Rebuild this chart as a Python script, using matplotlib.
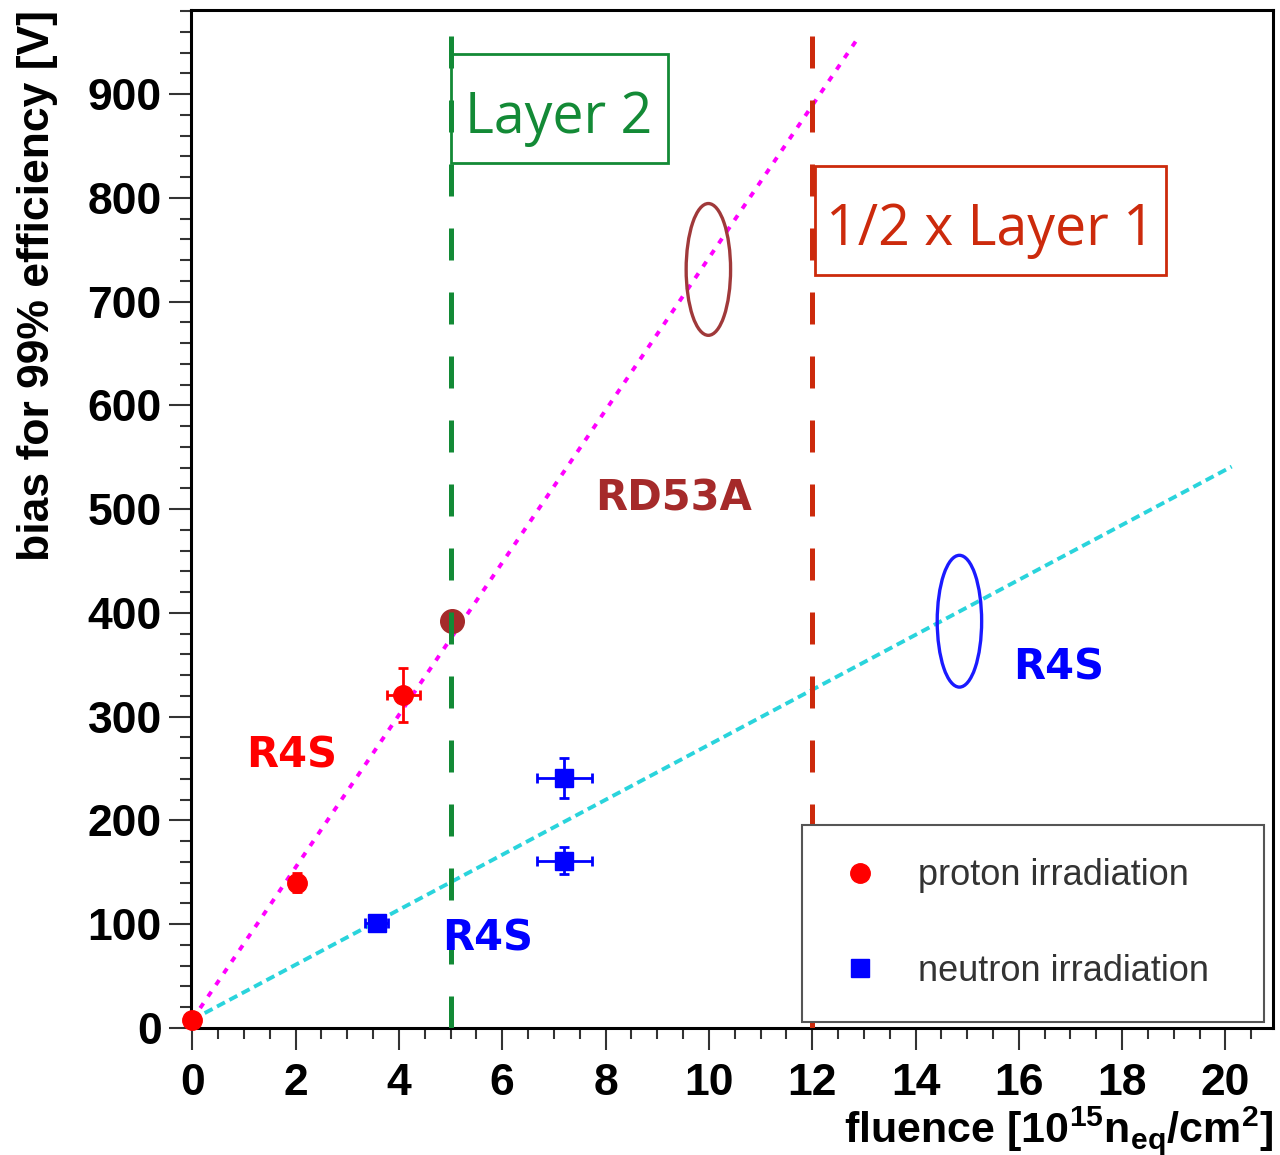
import matplotlib
matplotlib.use('Agg')
import matplotlib.pyplot as plt
from matplotlib.lines import Line2D
from matplotlib.patches import Ellipse, Rectangle
from matplotlib.ticker import MultipleLocator

plt.rcParams['font.family'] = 'Liberation Sans'
plt.rcParams['mathtext.fontset'] = 'custom'
plt.rcParams['mathtext.rm'] = 'Liberation Sans:bold'
plt.rcParams['mathtext.it'] = 'Liberation Sans:bold'
plt.rcParams['mathtext.bf'] = 'Liberation Sans:bold'

# measured points: fluence [1e15 neq/cm2] vs bias for 99% efficiency [V]
proton_x = [0.0, 2.03, 4.08]
proton_y = [8, 140, 321]
proton_xerr = [0.0, 0.08, 0.32]
proton_yerr = [0, 9, 26]

neutron_x = [3.57, 7.2, 7.2]
neutron_y = [101, 241, 161]
neutron_xerr = [0.22, 0.53, 0.53]
neutron_yerr = [4, 19, 13]

rd53a_x = [5.03]
rd53a_y = [392]

# linear trends (end points)
trend_p_x = [0.0, 12.9]
trend_p_y = [8, 955]
trend_n_x = [0.0, 20.12]
trend_n_y = [8, 541]

# extrapolated working points
extrap_x = [9.99, 14.85]
extrap_y = [731, 392]

layer2_fluence = 5.0
layer1_fluence = 12.0
layer_line_top = 957

GREEN = '#138a36'
DARKRED = '#cc2a0c'
BROWN = '#a52a2a'
BLUE = '#0000ff'
RED = '#ff0000'

fig = plt.figure(figsize=(12.8, 11.55), dpi=100)
ax = fig.add_axes([191/1280, 1 - 1028/1155, (1273 - 191)/1280, (1028 - 10)/1155])
ax.set_xlim(-0.025, 20.92)
ax.set_ylim(0, 981)

# trend lines
ax.plot(trend_p_x, trend_p_y, color='#ff00ff', lw=2.8, dashes=(1.5, 2.1), zorder=2)
ax.plot(trend_n_x, trend_n_y, color='#2ad4dc', lw=2.8, dashes=(2.3, 1.3), zorder=2)

# data
ax.plot(rd53a_x, rd53a_y, 'o', color=BROWN, ms=17, zorder=3)
ax.errorbar(proton_x, proton_y, xerr=proton_xerr, yerr=proton_yerr, fmt='o', color=RED,
            ms=14, elinewidth=2, capsize=3.6, capthick=2, zorder=6, clip_on=False)
ax.errorbar(neutron_x, neutron_y, xerr=neutron_xerr, yerr=neutron_yerr, fmt='s', color=BLUE,
            ms=13, elinewidth=2, capsize=3.6, capthick=2, zorder=6)

# layer fluence lines
ax.plot([layer2_fluence, layer2_fluence], [0, layer_line_top], color=GREEN, lw=3.6,
        dashes=(6.4, 6.4), zorder=4)
ax.plot([layer1_fluence, layer1_fluence], [0, layer_line_top], color=DARKRED, lw=3.6,
        dashes=(6.4, 6.4), zorder=4)

ax.add_patch(Rectangle((5.01, 833.8), 4.2, 105, fill=False, edgecolor=GREEN, lw=2, zorder=5))
ax.text(7.09, 862.7, 'Layer 2', color=GREEN, fontsize=40, family='Open Sans',
        ha='center', va='baseline', zorder=5)
ax.add_patch(Rectangle((12.05, 725.6), 6.8, 105.4, fill=False, edgecolor=DARKRED, lw=2, zorder=5))
ax.text(15.45, 754.8, '1/2 x Layer 1', color=DARKRED, fontsize=40, family='Open Sans',
        ha='center', va='baseline', zorder=5)

# ellipses around the extrapolated points
ax.add_patch(Ellipse((extrap_x[0], extrap_y[0]), 0.86, 127, fill=False, edgecolor='#a0393a', lw=2.4, zorder=3))
ax.add_patch(Ellipse((extrap_x[1], extrap_y[1]), 0.86, 127, fill=False, edgecolor='#1a1aff', lw=2.4, zorder=3))

lab = dict(family='DejaVu Sans', fontweight='bold', fontsize=30, ha='center', va='baseline', zorder=5)
ax.text(9.31, 499, 'RD53A', color=BROWN, **lab)
ax.text(1.93, 251, 'R4S', color=RED, **lab)
ax.text(5.72, 75, 'R4S', color=BLUE, **lab)
ax.text(16.77, 336, 'R4S', color=BLUE, **lab)

# legend
handles = [Line2D([], [], ls='none', marker='o', color=RED, ms=14),
           Line2D([], [], ls='none', marker='s', color=BLUE, ms=13)]
leg = ax.legend(handles, ['proton irradiation', 'neutron irradiation'],
                loc='upper left', bbox_to_anchor=(0.5647, 0.0147, 0.427, 0.1847),
                mode='expand', borderaxespad=0, fontsize=26, labelspacing=1.67,
                borderpad=0.92, handlelength=1.37, handletextpad=0.92,
                fancybox=False, framealpha=1, edgecolor='#555555')
leg.get_frame().set_linewidth(1.5)
for t in leg.get_texts():
    t.set_color('#333333')

# axes styling
for sp in ax.spines.values():
    sp.set_linewidth(2.2)
ax.xaxis.set_major_locator(MultipleLocator(2))
ax.xaxis.set_minor_locator(MultipleLocator(0.5))
ax.yaxis.set_major_locator(MultipleLocator(100))
ax.yaxis.set_minor_locator(MultipleLocator(20))
ax.tick_params(which='both', direction='out', width=1.5, color='#333333')
ax.tick_params(which='major', length=16, labelsize=32, pad=5)
ax.tick_params(axis='x', which='major', pad=9)
ax.tick_params(which='minor', length=8)
for t in ax.get_xticklabels() + ax.get_yticklabels():
    t.set_fontweight('bold')

ax.set_xlabel(r'fluence [10$^{15}$n$_{\mathrm{eq}}$/cm$^{2}$]', fontsize=31, fontweight='bold', ha='right')
ax.xaxis.set_label_coords(1.0, -0.075)
ax.set_ylabel('bias for 99% efficiency [V]', fontsize=32, fontweight='bold', ha='right')
ax.yaxis.set_label_coords(-0.123, 1.0)

fig.savefig('out.png', dpi=100)
